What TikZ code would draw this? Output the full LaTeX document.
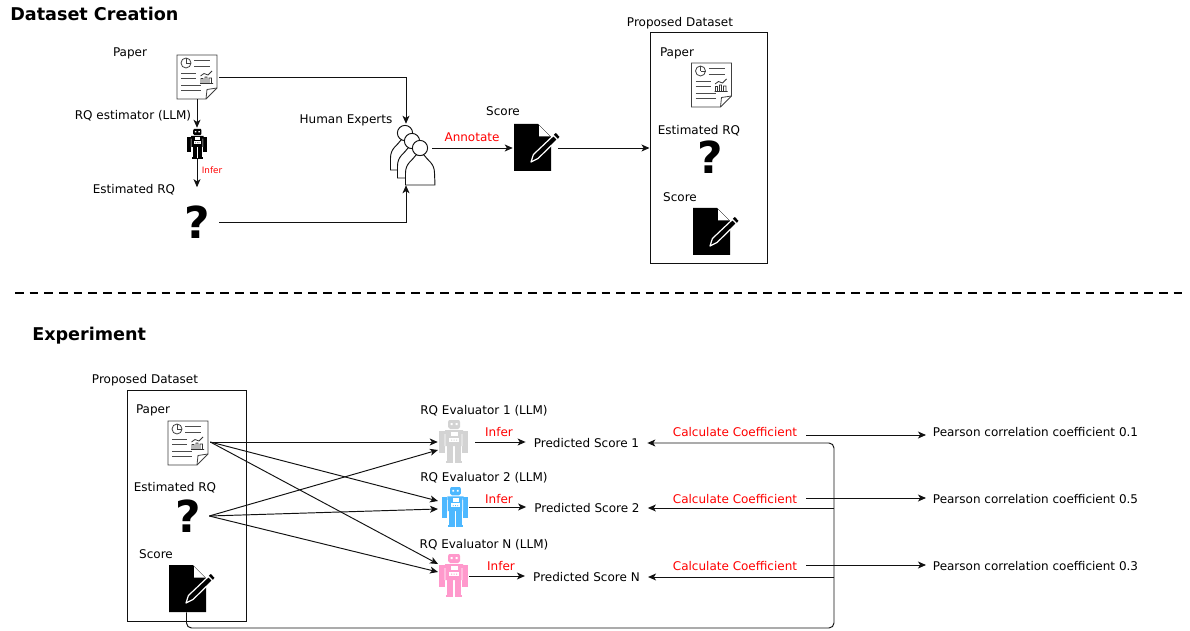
\documentclass[tikz,border=0pt]{standalone}
\usepackage{fontspec}
\setmainfont{DejaVu Sans}
\usetikzlibrary{arrows.meta,calc}
\definecolor{inkc}{HTML}{111111}
\definecolor{redc}{HTML}{FF0000}
\definecolor{robotgray}{HTML}{D3D3D3}
\definecolor{robotblue}{HTML}{4DB8FF}
\definecolor{robotpink}{HTML}{FF99CC}
\tikzset{
  x=0.75pt,y=-0.75pt,
  lbl/.style={inner sep=0pt,font=\fontsize{9}{10}\selectfont,text=black,text height=8.4pt,text depth=2pt},
  redlbl/.style={lbl,text=redc},
  smallred/.style={inner sep=0pt,font=\fontsize{6.6}{8}\selectfont,text=redc},
  titlelbl/.style={inner sep=0pt,anchor=base west,font=\fontsize{13.2}{15}\selectfont\bfseries},
  panel/.style={draw=inkc,line width=0.75pt,inner sep=0pt,minimum width=#1*0.75pt},
  iconbox/.style 2 args={inner sep=0pt,minimum width=#1*0.75pt,minimum height=#2*0.75pt},
  conn/.style={draw=inkc,line width=0.72pt,-{Stealth[length=6pt,width=5.2pt,inset=1.6pt]}},
  qmark/.style={font=\fontsize{33}{33}\selectfont\bfseries,text=black},
  paper/.pic={
    \draw[line width=0.7pt,draw=black!75,fill=white]
      (0,0) -- (40,0) -- (40,33) -- (29,44) -- (0,44) -- cycle;
    \draw[line width=0.6pt,draw=black!75] (40,33) -- (30,34.5) -- (29,44);
    \draw[line width=0.6pt,draw=black!75] (9,8) circle (5);
    \draw[line width=0.6pt,draw=black!75] (9,8) -- (9,3) (9,8) -- (14,8);
    \draw[line width=0.6pt,draw=black!70]
      (17,5) -- (33,5) (17,11) -- (33,11)
      (4,18) -- (19,18) (4,23) -- (19,23) (4,30) -- (24,30) (4,35) -- (24,35);
    \draw[line width=0.6pt,draw=black!80]
      (23,28.5) -- (36,28.5)
      (24,28.5) -- (24,23.5) -- (26,23.5) -- (26,28.5)
      (28,28.5) -- (28,22) -- (30,22) -- (30,28.5)
      (32,28.5) -- (32,23) -- (34.5,23) -- (34.5,28.5)
      (23.5,21) -- (27,18.5) -- (31,20) -- (35,16);
  },
  robot/.pic={
    \fill[pic actions] (10,0) -- (20,0) -- (21,2) -- (21,7) -- (19,9) -- (11,9) -- (9,7) -- (9,2) -- cycle;
    \fill[pic actions] (6,10) -- (24,10) -- (24,12) -- (23,12) -- (23,26) -- (6,26) -- (6,12) -- cycle;
    \fill[pic actions] (0,11) rectangle (6,33);
    \fill[pic actions] (23,11) rectangle (29,33);
    \fill[pic actions] (8,26) rectangle (14,41);
    \fill[pic actions] (16,26) rectangle (22,41);
    \fill[pic actions] (7,41) rectangle (14,43);
    \fill[pic actions] (16,41) rectangle (23,43);
    \fill[white] (11.5,3) rectangle (13.5,5) (16.5,3) rectangle (18.5,5);
    \fill[white] (12,12) rectangle (19,16);
    \fill[white] (10,17.5) rectangle (20,22);
    \fill[pic actions] (12,19.5) rectangle (13,20.5) (14.5,19.5) rectangle (15.5,20.5) (17,19.5) rectangle (18,20.5);
    \fill[white] (5.6,14) rectangle (6.3,26) (22.7,14) rectangle (23.4,26);
    \fill[white] (14,28) rectangle (16,41);
  },
  scoredoc/.pic={
    \fill[black] (0,0) -- (24,0) -- (37,13) -- (37,47) -- (0,47) -- cycle;
    \fill[white] (25,1.5) -- (36,12.5) -- (25,12.5) -- cycle;
    \filldraw[fill=black,draw=white,line width=0.9pt,line join=round]
      (17,38) -- (19.4,30.5) -- (39.5,11.5) -- (43.5,15.5) -- (24,34.5) -- cycle;
    \fill[black] (39.8,10.8) -- (41.8,9) -- (45.5,12.8) -- (43.9,14.8) -- cycle;
  },
  person/.pic={
    \filldraw[fill=white,draw=inkc,line width=0.7pt]
      (0.5,45) -- (0.5,33) .. controls (0.5,23) and (8,20) .. (11,15) -- (19,15)
      .. controls (22,20) and (29.5,23) .. (29.5,33) -- (30,45) -- cycle;
    \filldraw[fill=white,draw=inkc,line width=0.7pt] (15,8) circle (7.6);
  }
}
\begin{document}
\begin{tikzpicture}
\useasboundingbox (0,0) rectangle (1190,631);
\fill[white] (0,0) rectangle (1190,631);

% ---------- Dataset creation ----------
\node[titlelbl] (title1) at (10,21) {Dataset Creation};
\node[lbl] (lPaperA) at (130,52) {Paper};
\node[lbl] (lEst) at (133,115) {RQ estimator (LLM)};
\node[smallred] (lInferA) at (212,170) {Infer};
\node[lbl] (lEstA) at (134,189) {Estimated RQ};
\node[lbl] (lHuman) at (346,119) {Human Experts};
\node[redlbl] (lAnn) at (472,137) {Annotate};
\node[lbl] (lScoreA) at (503,111) {Score};

\node[iconbox={44}{44}] (paperA) at (197,77) {};
\pic at (177,55) {paper};
\node[iconbox={22}{30}] (robotA) at (197,143) {};
\pic[black,scale=0.69] at (187,129) {robot};
\node[iconbox={44}{69},qmark] (estA) at (197,222) {?};
\node[iconbox={52}{61}] (people) at (406,154.5) {};
\pic at (390,125) {person};
\pic at (397,133) {person};
\pic at (405,140) {person};
\node[iconbox={45}{48}] (scoreA) at (535.5,148) {};
\pic at (514,124) {scoredoc};

\draw[conn] (paperA.south) -- (robotA.north);
\draw[conn] (robotA.south) -- (estA.north);
\draw[conn] (paperA.east) -| (people.north);
\draw[conn] (estA.east) -| (people.south);
\draw[conn] (people.east |- scoreA.west) -- (scoreA.west);

\node[panel=117,minimum height=231*0.75pt] (boxA) at (708.5,148) {};
\draw[conn] (scoreA.east) -- (boxA.west);
\node[iconbox={40}{44}] (paperA2) at (711.5,85) {};
\pic at (691.5,63) {paper};
\node[iconbox={22}{40},qmark] (estA2) at (710,157) {?};
\node[iconbox={37}{47}] (scoreA2) at (711.5,231) {};
\pic at (693,208) {scoredoc};
\node[lbl] (lPropA) at (680,22) {Proposed Dataset};
\node[lbl] (lPaperA2) at (677,52) {Paper};
\node[lbl] (lEstA2) at (699,130) {Estimated RQ};
\node[lbl] (lScoreA2) at (680,197) {Score};

% ---------- Separator ----------
\coordinate (sepL) at (15,293);
\coordinate (sepR) at (1185,293);
\draw[black,line width=1.5pt,dash pattern=on 6.5pt off 4.5pt] (sepL) -- (sepR);

% ---------- Experiment ----------
\node[titlelbl] (title2) at (32,340) {Experiment};
\node[panel=119,minimum height=231*0.75pt] (boxB) at (186.5,505.5) {};
\node[lbl] (lPropB) at (145,379) {Proposed Dataset};
\node[lbl] (lPaperB) at (153,409) {Paper};
\node[lbl] (lEstB) at (175,487) {Estimated RQ};
\node[lbl] (lScoreB) at (156,554) {Score};
\node[iconbox={44}{44}] (paperB) at (188,442) {};
\pic at (168,421) {paper};
\node[iconbox={42}{40},qmark] (estB) at (188,516) {?};
\node[iconbox={37}{47}] (scoreB) at (186.5,588.5) {};
\pic at (169,565) {scoredoc};

\node[lbl] (lEv1) at (484,410) {RQ Evaluator 1 (LLM)};
\node[lbl] (lEv2) at (484,477) {RQ Evaluator 2 (LLM)};
\node[lbl] (lEvN) at (484,544) {RQ Evaluator N (LLM)};
\node[redlbl] (lInf1) at (499,432) {Infer};
\node[redlbl] (lInf2) at (499,499) {Infer};
\node[redlbl] (lInf3) at (501,566) {Infer};

\node[iconbox={37}{43}] (robot1) at (456.5,442) {};
\pic[robotgray] at (439,420) {robot};
\node[iconbox={31}{40}] (robot2) at (453.5,507) {};
\pic[robotblue,xscale=0.9,yscale=0.93] at (442,487) {robot};
\node[iconbox={31}{44}] (robot3) at (453.5,576) {};
\pic[robotpink] at (439,554) {robot};

\coordinate (r1b) at (438,450);
\coordinate (r2a) at (438,501);
\coordinate (r2b) at (438,509);
\coordinate (r3a) at (438,564);
\coordinate (r3b) at (438,572);
\draw[conn] (paperB.east) -- (robot1.west);
\draw[conn] (paperB.east) -- (r2a);
\draw[conn] (paperB.east) -- (r3a);
\draw[conn] (estB.east) -- (r1b);
\draw[conn] (estB.east) -- (r2b);
\draw[conn] (estB.east) -- (r3b);

\node[lbl,inner xsep=6pt] (pred1) at (586.5,443) {Predicted Score 1};
\node[lbl,inner xsep=6pt] (pred2) at (587,508) {Predicted Score 2};
\node[lbl,inner xsep=6pt] (pred3) at (586.5,577) {Predicted Score N};
\draw[conn] (robot1.east) -- (pred1.west |- robot1.east);
\draw[conn] (robot2.east) -- (pred2.west |- robot2.east);
\draw[conn] (robot3.east) -- (pred3.west |- robot3.east);

\coordinate (loop) at (834,628);
\draw[conn,rounded corners=3.75pt] (scoreB.south) |- (loop) |- (pred1.east);
\draw[conn] (loop |- pred2.east) -- (pred2.east);
\draw[conn] (loop |- pred3.east) -- (pred3.east);

\node[redlbl] (calc1) at (735,432) {Calculate Coefficient};
\node[redlbl] (calc2) at (735,499) {Calculate Coefficient};
\node[redlbl] (calc3) at (735,566) {Calculate Coefficient};
\node[lbl] (pear1) at (1035.5,432) {Pearson correlation coefficient 0.1};
\node[lbl] (pear2) at (1035.5,499) {Pearson correlation coefficient 0.5};
\node[lbl] (pear3) at (1035.5,566) {Pearson correlation coefficient 0.3};
\coordinate (c1s) at (806,435);
\coordinate (c2s) at (806,498);
\coordinate (c3s) at (806,565);
\coordinate (p1e) at (926,435);
\coordinate (p2e) at (926,498);
\coordinate (p3e) at (926,565);
\draw[conn] (c1s) -- (p1e);
\draw[conn] (c2s) -- (p2e);
\draw[conn] (c3s) -- (p3e);
\end{tikzpicture}
\end{document}
